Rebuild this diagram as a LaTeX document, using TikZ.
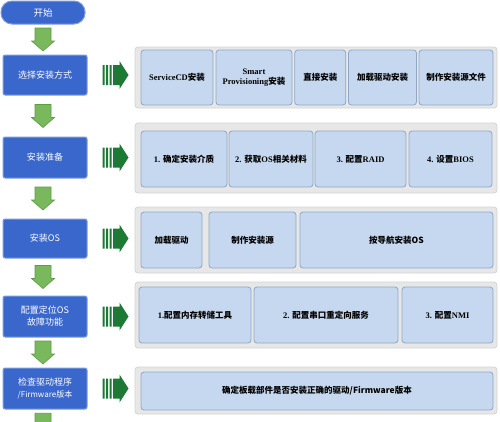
\documentclass[tikz,border=0pt]{standalone}
\usepackage{fontspec}
\setmainfont{Liberation Serif}
\newfontfamily\zh{Noto Sans CJK SC}
\usetikzlibrary{calc}
\definecolor{boxblue}{HTML}{3A67CB}
\definecolor{boxedge}{HTML}{7D9DE0}
\definecolor{arrgreen}{HTML}{79B85C}
\definecolor{arredge}{HTML}{5E9E45}
\definecolor{darkgreen}{HTML}{1D7A35}
\definecolor{panelfill}{HTML}{E7E7E7}
\definecolor{paneledge}{HTML}{D4D4D4}
\definecolor{itemfill}{HTML}{C6D8EF}
\definecolor{itemedge}{HTML}{8FA6C6}
\tikzset{
  leftbox/.style={rectangle, fill=boxblue, draw=boxedge, line width=1pt, rounded corners=2pt,
    text=white, align=center, inner sep=0pt, minimum width=84pt,
    font=\zh\fontsize{9}{12}\selectfont},
  startpill/.style={leftbox, rounded corners=11pt, minimum height=23pt, font=\zh\fontsize{9.5}{12}\selectfont},
  panelbox/.style={rectangle, fill=panelfill, draw=paneledge, line width=0.8pt, rounded corners=3pt,
    inner sep=0pt, minimum width=362pt},
  itembox/.style={rectangle, fill=itemfill, draw=itemedge, line width=0.8pt, rounded corners=3pt,
    inner sep=0pt, align=center, text=black, font=\bfseries\fontsize{8.5}{10.5}\selectfont},
  downarr/.style={fill=arrgreen, draw=arredge, line width=0.6pt},
  rightarr/.style={fill=darkgreen},
}
% block arrow pointing down between two named nodes
\newcommand{\dnarr}[2]{%
  \path[downarr] let \p1=(#1.south), \p2=(#2.north), \n1={(\y1+\y2)/2} in
    (35pt,{\n1+11.5pt}) -- (51pt,{\n1+11.5pt}) -- (51pt,{\n1-1.5pt}) -- (54.5pt,{\n1-1.5pt})
    -- (43pt,{\n1-11.5pt}) -- (31.5pt,{\n1-1.5pt}) -- (35pt,{\n1-1.5pt}) -- cycle;}
% striped arrow pointing right from a step box to its panel
\newcommand{\rtarr}[2]{%
  \path[rightarr] let \p1=(#1.east), \p2=(#2.west) in
    ({\x1+15pt},{\y1-10pt}) rectangle ({\x1+17pt},{\y1+10pt})
    ({\x1+18.5pt},{\y1-10pt}) rectangle ({\x1+20.5pt},{\y1+10pt})
    ({\x1+22pt},{\y1-10pt}) rectangle ({\x1+24pt},{\y1+10pt})
    ({\x1+25.5pt},{\y1-10pt}) -- ({\x1+32pt},{\y1-10pt}) -- ({\x1+32pt},{\y1-14pt})
    -- ({\x1+41pt},{\y1}) -- ({\x1+32pt},{\y1+14pt}) -- ({\x1+32pt},{\y1+10pt})
    -- ({\x1+25.5pt},{\y1+10pt}) -- cycle;}
\begin{document}
\begin{tikzpicture}[x=1pt,y=-1pt]
\useasboundingbox (0,0) rectangle (500,421);
\clip (0,0) rectangle (500,421);
\fill[white] (0,0) rectangle (500,421);
% left column
\node[startpill] (start) at (43,12.5) {开始};
\node[leftbox, minimum height=40pt] (s1) at (45,75) {选择安装方式};
\node[leftbox, minimum height=41pt] (s2) at (45,157.5) {安装准备};
\node[leftbox, minimum height=39pt] (s3) at (45,238.5) {安装OS};
\node[leftbox, minimum height=41pt] (s4) at (45,316.5) {配置定位OS\\故障功能};
\node[leftbox, minimum height=41pt] (s5) at (45,388.5) {检查驱动程序\\{\fontsize{8}{11}\selectfont /Firmware版本}};
\coordinate (tail) at (43,440);
% panels
\node[panelbox, minimum height=61pt] (p1) at (316,77.5) {};
\node[panelbox, minimum height=70pt] (p2) at (316,158) {};
\node[panelbox, minimum height=66pt] (p3) at (316,240) {};
\node[panelbox, minimum height=66pt] (p4) at (316,315) {};
\node[panelbox, minimum height=47pt] (p5) at (316,390.5) {};
% panel 1 items
\node[itembox, minimum width=72pt, minimum height=55pt] (a1) at (177,77.5) {ServiceCD{\zh 安装}};
\node[itembox, minimum width=76pt, minimum height=55pt] (a2) at (254,77.5) {Smart\\Provisioning{\zh 安装}};
\node[itembox, minimum width=51pt, minimum height=55pt] (a3) at (320.25,77.5) {\zh 直接安装};
\node[itembox, minimum width=68pt, minimum height=55pt] (a4) at (382.5,77.5) {\zh 加载驱动安装};
\node[itembox, minimum width=74pt, minimum height=55pt] (a5) at (456,77.5) {\zh 制作安装源文件};
% panel 2 items
\node[itembox, minimum width=86pt, minimum height=56pt] (b1) at (184,159) {1. {\zh 确定安装介质}};
\node[itembox, minimum width=84pt, minimum height=56pt] (b2) at (271,159) {2. {\zh 获取}OS{\zh 相关材料}};
\node[itembox, minimum width=91pt, minimum height=56pt] (b3) at (360.5,159) {3. {\zh 配置}RAID};
\node[itembox, minimum width=83pt, minimum height=56pt] (b4) at (450.5,159) {4. {\zh 设置}BIOS};
% panel 3 items
\node[itembox, minimum width=61pt, minimum height=56pt] (c1) at (171.5,240) {\zh 加载驱动};
\node[itembox, minimum width=87pt, minimum height=56pt] (c2) at (252.5,240) {\zh 制作安装源};
\node[itembox, minimum width=193pt, minimum height=56pt] (c3) at (396.5,240) {\zh 按导航安装OS};
% panel 4 items
\node[itembox, minimum width=112pt, minimum height=56pt] (d1) at (195,315) {1.{\zh 配置内存转储工具}};
\node[itembox, minimum width=144pt, minimum height=56pt] (d2) at (326,315) {2. {\zh 配置串口重定向服务}};
\node[itembox, minimum width=91pt, minimum height=56pt] (d3) at (447.5,315) {3. {\zh 配置}NMI};
% panel 5 item
\node[itembox, minimum width=352pt, minimum height=38pt] (e1) at (317,391) {\zh 确定板载部件是否安装正确的驱动/Firmware版本};
% down arrows
\dnarr{start}{s1}
\dnarr{s1}{s2}
\dnarr{s2}{s3}
\dnarr{s3}{s4}
\dnarr{s4}{s5}
\path[downarr] let \p1=(s5.south), \p2=(tail), \n1={(\y1+\y2)/2} in
    (35pt,{\n1+11.5pt}) -- (51pt,{\n1+11.5pt}) -- (51pt,{\n1-1.5pt}) -- (54.5pt,{\n1-1.5pt})
    -- (43pt,{\n1-11.5pt}) -- (31.5pt,{\n1-1.5pt}) -- (35pt,{\n1-1.5pt}) -- cycle;
% right arrows
\rtarr{s1}{p1}
\rtarr{s2}{p2}
\rtarr{s3}{p3}
\rtarr{s4}{p4}
\rtarr{s5}{p5}
\end{tikzpicture}
\end{document}
